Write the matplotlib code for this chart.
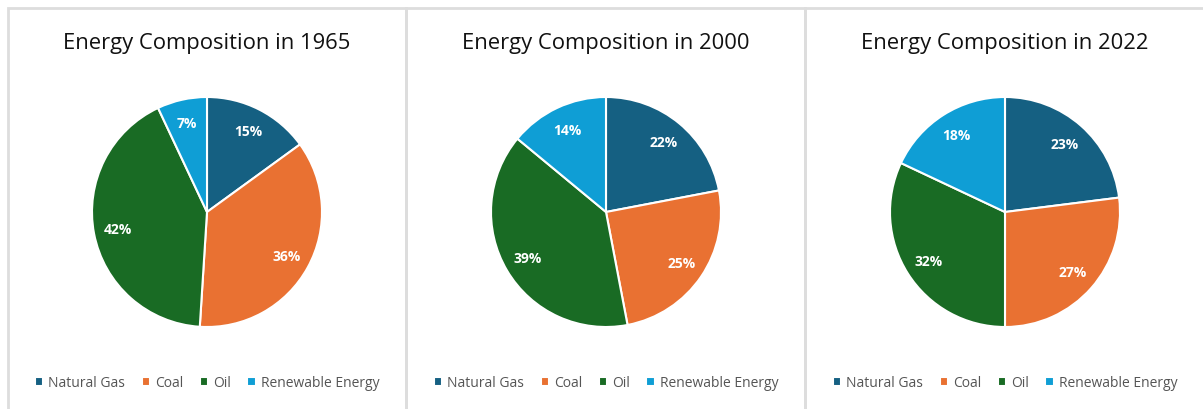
import matplotlib.pyplot as plt
from matplotlib.patches import Rectangle

plt.rcParams['font.family'] = ['Open Sans', 'DejaVu Sans']

sources = ['Natural Gas', 'Coal', 'Oil', 'Renewable Energy']
colors = ['#156082', '#E97132', '#196B24', '#0F9ED5']
years = ['1965', '2000', '2022']
share_1965 = [15, 36, 42, 7]
share_2000 = [22, 25, 39, 14]
share_2022 = [23, 27, 32, 18]
shares = [share_1965, share_2000, share_2022]

W, H = 1203, 410
fig = plt.figure(figsize=(W / 100, H / 100), dpi=100)

# panel frames (left edge, top edge and separators)
panel_left = [8, 406, 805]
panel_right = [406, 805, 1210]
for x0, x1 in zip(panel_left, panel_right):
    fig.add_artist(Rectangle((x0 / W, -0.05), (x1 - x0) / W, (H - 9) / H + 0.05,
                             transform=fig.transFigure, fill=False,
                             edgecolor='#dddddd', linewidth=2))

centers = [207, 606, 1005]
radius = 115
cy = 213
for year, vals, cx in zip(years, shares, centers):
    ax = fig.add_axes([(cx - radius) / W, (H - cy - radius) / H,
                       2 * radius / W, 2 * radius / H])
    wedges, texts, autotexts = ax.pie(
        vals, colors=colors, startangle=90, counterclock=False,
        autopct='%d%%', pctdistance=0.79,
        wedgeprops=dict(edgecolor='white', linewidth=1.5))
    for t in autotexts:
        t.set_color('white')
        t.set_fontweight('bold')
        t.set_fontsize(10)
    ax.set_xlim(-1.0, 1.0)
    ax.set_ylim(-1.0, 1.0)

    fig.text(cx / W, 1 - 43 / H, f'Energy Composition in {year}',
             ha='center', va='center', fontsize=15.8, color='#111111')
    fig.legend(wedges, sources, loc='center', bbox_to_anchor=(cx / W, 1 - 384 / H),
               ncol=4, frameon=False, fontsize=10, labelcolor='#555555',
               handlelength=0.6, handleheight=0.6, handletextpad=0.35,
               columnspacing=1.2)

fig.savefig('out.png', dpi=100, facecolor='white')
